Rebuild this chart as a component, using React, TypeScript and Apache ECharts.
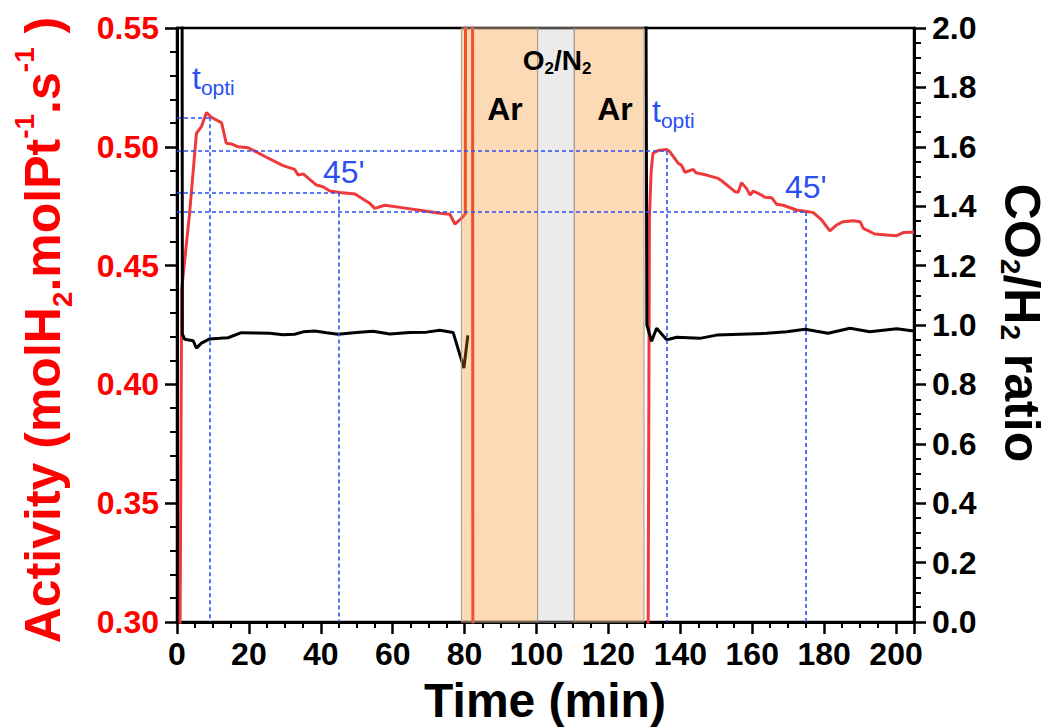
import React, { useEffect, useRef } from 'react';
import * as echarts from 'echarts';

const FONT = '"Liberation Sans", Arial, Helvetica, sans-serif';
const RED_LINE = '#ee3a3a';
const RED_TEXT = '#ff0000';
const BLUE = '#2a50f2';
const ORANGE_BAND = 'rgba(247,133,13,0.3)';
const GRAY_BAND = 'rgba(0,0,0,0.08)';

// axes
const xMin = 0;
const xMax = 205;
const xInterval = 20;
const yLeftMin = 0.3;
const yLeftMax = 0.55;
const yLeftInterval = 0.05;
const yRightMin = 0;
const yRightMax = 2.0;
const yRightInterval = 0.2;

// Activity (left axis), first run
const activityTimeA = [0.8, 1.3, 3.5, 5.4, 6.8, 8.2, 9.6, 12.4, 13.7, 15.1, 17.0, 19.8, 24.9, 29.5, 32.7, 33.7, 35.1, 38.8, 40.6, 42.5, 45.3, 49.5, 53.6, 55.0, 57.8, 62.0, 67.5, 73.1, 75.9, 77.3, 79.1, 80.2, 80.3, 82.2, 82.3];
const activityValueA = [0.28, 0.44, 0.472, 0.5057, 0.5085, 0.5144, 0.5124, 0.5101, 0.5015, 0.5012, 0.5, 0.4996, 0.4956, 0.4921, 0.4905, 0.4881, 0.4886, 0.4839, 0.4832, 0.4814, 0.4808, 0.4801, 0.4762, 0.4741, 0.4754, 0.4745, 0.4733, 0.472, 0.4716, 0.4675, 0.4699, 0.4717, 0.62, 0.62, 0.25];
// Activity, second run
const activityTimeB = [131.0, 131.4, 131.9, 132.4, 133.8, 136.2, 137.1, 139.4, 140.3, 141.3, 143.6, 144.3, 147.3, 150.5, 151.5, 155.2, 156.1, 157.0, 158.4, 159.4, 160.3, 162.6, 163.5, 165.4, 166.8, 168.6, 172.3, 176.0, 177.0, 179.3, 181.6, 183.5, 185.3, 188.1, 190.0, 190.9, 191.8, 194.1, 197.4, 200.2, 202.0, 204.3, 205];
const activityValueB = [0.27, 0.47, 0.49, 0.4973, 0.4984, 0.4989, 0.4979, 0.4931, 0.4923, 0.4893, 0.4905, 0.4891, 0.4881, 0.4867, 0.4857, 0.4811, 0.4809, 0.4849, 0.4825, 0.4797, 0.4814, 0.4797, 0.4788, 0.4786, 0.4758, 0.4754, 0.4734, 0.4726, 0.4723, 0.4692, 0.4646, 0.4671, 0.4685, 0.4689, 0.4685, 0.4657, 0.465, 0.4633, 0.4629, 0.4626, 0.4639, 0.464, 0.464];

// CO2/H2 ratio (right axis)
const ratioTimeA = [1.4, 1.5, 2.1, 4.5, 5.4, 6.8, 9.1, 11.9, 14.2, 17.9, 22.1, 25.8, 29.5, 32.7, 35.1, 38.3, 41.6, 44.8, 49.9, 54.5, 59.2, 64.7, 69.4, 73.1, 76.8, 79.8, 80.9];
const ratioValueA = [2.3, 0.97, 0.952, 0.947, 0.922, 0.939, 0.953, 0.955, 0.957, 0.974, 0.973, 0.972, 0.967, 0.969, 0.977, 0.98, 0.974, 0.969, 0.975, 0.979, 0.97, 0.975, 0.976, 0.982, 0.975, 0.855, 0.965];
const ratioTimeB = [130.4, 130.7, 132.0, 133.4, 136.2, 139.0, 145.4, 150.1, 156.7, 164.0, 169.6, 174.7, 181.1, 187.2, 192.7, 200.2, 204.3, 205];
const ratioValueB = [2.3, 1.0, 0.945, 0.989, 0.95, 0.959, 0.955, 0.966, 0.969, 0.972, 0.977, 0.986, 0.972, 0.989, 0.977, 0.987, 0.981, 0.981];

// gas periods
const bandStart = [79.1, 100.3, 110.5];
const bandEnd = [100.3, 110.5, 129.9];
const bandGas = ['Ar', 'O2/N2', 'Ar'];

// reference points (t_opti and t_opti + 45 min)
const optiTimes = [9.1, 136.2];
const optiValues = [0.5124, 0.4982];
const after45Times = [45.1, 174.8];
const after45Values = [0.4808, 0.4726];

function zip(ts: number[], vs: number[]) {
  return ts.map((t, i) => [t, vs[i]]);
}

function buildOption() {
  const activityData = [...zip(activityTimeA, activityValueA), [106, null], ...zip(activityTimeB, activityValueB)];
  const ratioData = [...zip(ratioTimeA, ratioValueA), [106, null], ...zip(ratioTimeB, ratioValueB)];

  const refLines: any[] = [];
  const addRef = (t: number, v: number) => {
    refLines.push([{ coord: [xMin, v] }, { coord: [t, v] }]);
    refLines.push([{ coord: [t, v] }, { coord: [t, yLeftMin] }]);
  };
  optiTimes.forEach((t, i) => addRef(t, optiValues[i]));
  after45Times.forEach((t, i) => addRef(t, after45Values[i]));

  const bands = bandStart.map((s, i) => [
    {
      xAxis: s,
      itemStyle: {
        color: bandGas[i] === 'Ar' ? ORANGE_BAND : GRAY_BAND,
        borderColor: '#a09a94',
        borderWidth: 1,
      },
    },
    { xAxis: bandEnd[i] },
  ]);

  const tickLabel = { fontFamily: FONT, fontSize: 32, fontWeight: 'bold' as const };

  const leftRich = {
    m: { fontFamily: FONT, fontSize: 50, fontWeight: 'bold', lineHeight: 66 },
    s: { fontFamily: FONT, fontSize: 28, fontWeight: 'bold', lineHeight: 16, verticalAlign: 'bottom' },
    p: { fontFamily: FONT, fontSize: 28, fontWeight: 'bold', lineHeight: 28, verticalAlign: 'top' },
  };
  const rightRich = {
    m: { fontFamily: FONT, fontSize: 50, fontWeight: 'bold', lineHeight: 52 },
    s: { fontFamily: FONT, fontSize: 28, fontWeight: 'bold', lineHeight: 4, verticalAlign: 'bottom' },
  };

  return {
    animation: false,
    backgroundColor: '#ffffff',
    grid: {
      left: 177,
      right: 137,
      top: 28,
      bottom: 106,
      containLabel: false,
      show: true,
      borderColor: '#000',
      borderWidth: 2.5,
      backgroundColor: 'transparent',
    },
    xAxis: {
      type: 'value',
      min: xMin,
      max: xMax,
      interval: xInterval,
      axisLine: { show: true, onZero: false, lineStyle: { color: '#000', width: 3 } },
      axisTick: { show: true, inside: false, length: 12, lineStyle: { color: '#000', width: 2.5 } },
      minorTick: { show: true, splitNumber: 4, length: 6, lineStyle: { color: '#000', width: 2 } },
      splitLine: { show: false },
      axisLabel: { ...tickLabel, color: '#000', margin: 16, showMaxLabel: false },
    },
    yAxis: [
      {
        type: 'value',
        position: 'left',
        min: yLeftMin,
        max: yLeftMax,
        interval: yLeftInterval,
        axisLine: { show: true, lineStyle: { color: '#000', width: 3 } },
        axisTick: { show: true, length: 12, lineStyle: { color: '#000', width: 2.5 } },
        minorTick: { show: true, splitNumber: 5, length: 7, lineStyle: { color: '#000', width: 2 } },
        splitLine: { show: false },
        axisLabel: { ...tickLabel, color: RED_TEXT, margin: 18, formatter: (v: number) => v.toFixed(2) },
      },
      {
        type: 'value',
        position: 'right',
        min: yRightMin,
        max: yRightMax,
        interval: yRightInterval,
        axisLine: { show: true, lineStyle: { color: '#000', width: 3 } },
        axisTick: { show: true, length: 12, lineStyle: { color: '#000', width: 2.5 } },
        minorTick: { show: true, splitNumber: 4, length: 7, lineStyle: { color: '#000', width: 2 } },
        splitLine: { show: false },
        axisLabel: { ...tickLabel, color: '#000', margin: 18, formatter: (v: number) => v.toFixed(1) },
      },
    ],
    series: [
      {
        name: 'Activity',
        type: 'line',
        yAxisIndex: 0,
        data: activityData,
        showSymbol: false,
        symbol: 'none',
        connectNulls: false,
        clip: true,
        z: 2,
        lineStyle: { color: RED_LINE, width: 3 },
        itemStyle: { color: RED_LINE },
        silent: true,
        markLine: {
          silent: true,
          symbol: ['none', 'none'],
          label: { show: false },
          emphasis: { disabled: true },
          lineStyle: { color: BLUE, width: 1.6, type: [4, 3] },
          data: refLines,
        },
      },
      {
        name: 'CO2/H2',
        type: 'line',
        yAxisIndex: 1,
        data: ratioData,
        showSymbol: false,
        symbol: 'none',
        connectNulls: false,
        clip: true,
        z: 2,
        lineStyle: { color: '#000', width: 3 },
        itemStyle: { color: '#000' },
        silent: true,
      },
      {
        name: 'bands',
        type: 'line',
        yAxisIndex: 0,
        data: [],
        silent: true,
        z: 4,
        markArea: {
          silent: true,
          z: 4,
          label: { show: false },
          data: bands,
        },
      },
    ],
    graphic: [
      {
        type: 'text',
        x: 43,
        y: 330,
        rotation: Math.PI / 2,
        z: 100,
        style: {
          text: '{m|Activity (molH}{s|2}{m|.molPt}{p|-1}{m|.s}{p|-1}{m| )}',
          align: 'center',
          verticalAlign: 'middle',
          fill: RED_TEXT,
          rich: leftRich,
        },
      },
      {
        type: 'text',
        x: 1022,
        y: 323,
        rotation: -Math.PI / 2,
        z: 100,
        style: {
          text: '{m|CO}{s|2}{m|/H}{s|2}{m| ratio}',
          align: 'center',
          verticalAlign: 'middle',
          fill: '#000',
          rich: rightRich,
        },
      },
      {
        type: 'text',
        x: 545,
        y: 700,
        z: 100,
        style: {
          text: 'Time (min)',
          align: 'center',
          verticalAlign: 'middle',
          fill: '#000',
          fontFamily: FONT,
          fontSize: 48,
          fontWeight: 'bold',
        },
      },
      ...[
        [192, 58],
        [652, 91],
      ].map(([x, y]) => ({
        type: 'text',
        x,
        y,
        z: 100,
        style: {
          text: '{m|t}{s|opti}',
          align: 'left',
          verticalAlign: 'top',
          fill: BLUE,
          rich: {
            m: { fontFamily: FONT, fontSize: 32, lineHeight: 40, fill: BLUE },
            s: { fontFamily: FONT, fontSize: 21, lineHeight: 10, verticalAlign: 'bottom', fill: BLUE },
          },
        },
      })),
      ...[
        [323, 171.5],
        [785, 186.5],
      ].map(([x, y]) => ({
        type: 'text',
        x,
        y,
        z: 100,
        style: {
          text: "45'",
          align: 'left',
          verticalAlign: 'middle',
          fill: BLUE,
          fontFamily: FONT,
          fontSize: 32,
        },
      })),
      ...[
        [505, 108.5],
        [615, 108.5],
      ].map(([x, y]) => ({
        type: 'text',
        x,
        y,
        z: 100,
        style: {
          text: 'Ar',
          align: 'center',
          verticalAlign: 'middle',
          fill: '#000',
          fontFamily: FONT,
          fontSize: 32,
          fontWeight: 'bold',
        },
      })),
      {
        type: 'text',
        x: 557,
        y: 43,
        z: 100,
        style: {
          text: '{m|O}{s|2}{m|/N}{s|2}',
          align: 'center',
          verticalAlign: 'top',
          fill: '#000',
          rich: {
            m: { fontFamily: FONT, fontSize: 28, fontWeight: 'bold', lineHeight: 34 },
            s: { fontFamily: FONT, fontSize: 17, fontWeight: 'bold', lineHeight: 8, verticalAlign: 'bottom' },
          },
        },
      },
    ],
  };
}

export default function App() {
  const ref = useRef<HTMLDivElement>(null);
  useEffect(() => {
    if (!ref.current) return;
    const chart = echarts.init(ref.current, undefined, { renderer: 'svg' });
    chart.setOption(buildOption() as any);
    return () => {
      chart.dispose();
    };
  }, []);
  return (
    <div
      ref={ref}
      style={{ position: 'fixed', left: 0, top: 0, width: 1051, height: 728, background: '#fff' }}
    />
  );
}
